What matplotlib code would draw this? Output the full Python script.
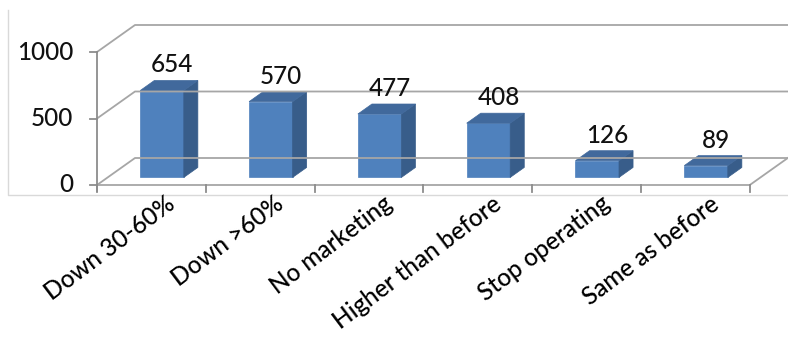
import matplotlib
matplotlib.use("Agg")
import matplotlib.pyplot as plt
from matplotlib.patches import Polygon

categories = ["Down 30-60%", "Down >60%", "No marketing", "Higher than before",
              "Stop operating", "Same as before"]
values = [654, 570, 477, 408, 126, 89]
yticks = [0, 500, 1000]

plt.rcParams['font.family'] = ['Lato', 'DejaVu Sans']

W, H = 788, 344
fig = plt.figure(figsize=(W / 100, H / 100), dpi=100)
ax = fig.add_axes([0, 0, 1, 1])
ax.set_xlim(0, W)
ax.set_ylim(H, 0)
ax.axis('off')

# projection of (category position, value, depth) into the drawing plane
X0, CW, Y0, SC, DX, DY = 97, 108.8, 185, 0.133, 38, 27
def proj(c, v, z):
    return X0 + c * CW + z * DX, Y0 - v * SC - z * DY

n = len(categories)
grid_col = '#A6A6A6'
axis_col = '#8C8C8C'
txt_col = '#111111'

# outer light border (left and bottom)
ax.plot([8, 8, W], [10, 195, 195], color='#D9D9D9', lw=1)

# walls / gridlines
for t in yticks:
    x1, y1 = proj(0, t, 0)
    x2, y2 = proj(0, t, 1)
    x3, y3 = proj(n, t, 1)
    ax.plot([x1, x2, x3 + 1], [y1, y2, y3], color=grid_col, lw=1.3)
    ax.plot([x1 - 7, x1], [y1, y1], color=axis_col, lw=1.3)
    ax.text(x1 - 24, y1, f"{t}", ha='right', va='center', fontsize=17.5,
            color=txt_col, fontweight='medium')

# floor front and right edges
fx0, fy0 = proj(0, 0, 0)
fx1, fy1 = proj(n, 0, 0)
fx2, fy2 = proj(n, 0, 1)
ax.plot([fx0, fx1, fx2], [fy0, fy1, fy2], color=grid_col, lw=1.3)
# vertical axis
vx0, vy0 = proj(0, yticks[0], 0)
vx1, vy1 = proj(0, yticks[-1], 0)
ax.plot([vx0, vx1], [vy0 + 6, vy1], color=axis_col, lw=1.3)
for i in range(n + 1):
    tx, ty = proj(i, 0, 0)
    ax.plot([tx, tx], [ty, ty + 7], color=axis_col, lw=1.3)

# bars
front_c, side_c, top_c = '#4F81BD', '#385D8A', '#41699C'
bw, z0, z1 = 0.40, 0.28, 0.65
for i, v in enumerate(values):
    c0 = i + 0.5 - bw / 2
    c1 = i + 0.5 + bw / 2
    front = [proj(c0, 0, z0), proj(c1, 0, z0), proj(c1, v, z0), proj(c0, v, z0)]
    side = [proj(c1, 0, z0), proj(c1, 0, z1), proj(c1, v, z1), proj(c1, v, z0)]
    top = [proj(c0, v, z0), proj(c1, v, z0), proj(c1, v, z1), proj(c0, v, z1)]
    ax.add_patch(Polygon(front, closed=True, facecolor=front_c, edgecolor=front_c, lw=0.5))
    ax.add_patch(Polygon(side, closed=True, facecolor=side_c, edgecolor=side_c, lw=0.5))
    ax.add_patch(Polygon(top, closed=True, facecolor=top_c, edgecolor=top_c, lw=0.5))
    lx, ly = proj(i + 0.5, v, (z0 + z1) / 2)
    ax.text(lx + 3, ly - 13, f"{v}", ha='center', va='baseline', fontsize=17.5,
            color=txt_col, fontweight='medium')

# category labels
for i, lab in enumerate(categories):
    cx, cy = proj(i + 0.5, 0, 0)
    ax.text(cx + 14, cy + 7, lab, rotation=37, rotation_mode='anchor',
            ha='right', va='top', fontsize=17.5, color='#000000', fontweight='medium')

fig.savefig('out.png', dpi=100)
